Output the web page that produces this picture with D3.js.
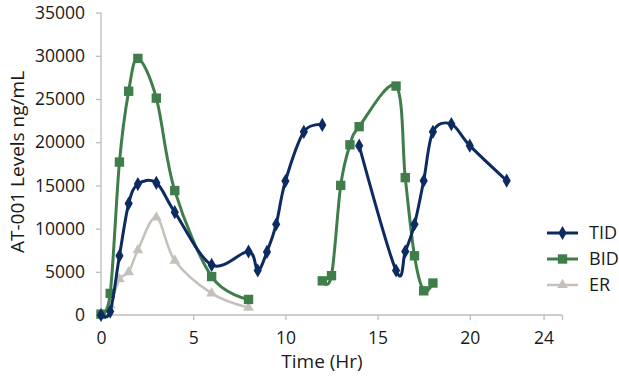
<!DOCTYPE html>
<html>
<head>
<meta charset="utf-8">
<script src="https://cdn.jsdelivr.net/npm/d3@7"></script>
<style>
  body { margin: 0; background: #fff; }
  text { font-family: "Open Sans", sans-serif; fill: #1a1a1a; }
</style>
</head>
<body>
<script>
//   DATA (null = break in the line)
const tidHours = [0, 0.5, 1, 1.5, 2, 3, 4, 6, 8, 8.5, 9, 9.5, 10, 11, 12, 13, 14, 16, 16.5, 17, 17.5, 18, 19, 20, 22];
const tidLevels = [0, 400, 6850, 12900, 15150, 15300, 11900, 5800, 7350, 5150, 7300, 10500, 15500, 21200, 22000, null, 19600, 5150, 7350, 10500, 15550, 21200, 22100, 19600, 15550];

const bidHours = [0, 0.5, 1, 1.5, 2, 3, 4, 6, 8, 10, 12, 12.5, 13, 13.5, 14, 16, 16.5, 17, 17.5, 18];
const bidLevels = [100, 2500, 17700, 25900, 29700, 25100, 14400, 4450, 1800, null, 3950, 4550, 15000, 19700, 21800, 26500, 15900, 6850, 2800, 3700];

const erHours = [0, 0.5, 1, 1.5, 2, 3, 4, 6, 8];
const erLevels = [0, 1150, 4150, 4950, 7500, 11300, 6300, 2500, 850];

const xTicks = [0, 5, 10, 15, 20, 24, 25];
const yTicks = [0, 5000, 10000, 15000, 20000, 25000, 30000, 35000];

document.addEventListener("DOMContentLoaded", function () {
  //     parameters
  const w = 619;
  const h = 377;
  const left = 101;
  const right = 562;
  const top = 12.6;
  const bottom = 315;

  const series = [
    { name: "TID", hours: tidHours, levels: tidLevels, color: "#0c2b62", width: 3, symbol: d3.symbolDiamond, size: 58 },
    { name: "BID", hours: bidHours, levels: bidLevels, color: "#3f7d4b", width: 3, symbol: d3.symbolSquare, size: 88 },
    { name: "ER", hours: erHours, levels: erLevels, color: "#c5c1ba", width: 2.5, symbol: d3.symbolTriangle, size: 50 },
  ];

  const svg = d3.select("body").append("svg").attr("width", w).attr("height", h);

  //     Scales
  const xScale = d3.scaleLinear().domain([0, 25]).range([left, right]);
  const yScale = d3.scaleLinear().domain([0, 35000]).range([bottom, top]);

  //     Axes
  const xAxis = d3
    .axisBottom(xScale)
    .tickValues(xTicks)
    .tickSize(5)
    .tickPadding(12)
    .tickFormat((d) => (d === 25 ? "" : d));
  const gx = svg.append("g").attr("transform", "translate(0," + bottom + ")").call(xAxis);

  const yAxis = d3
    .axisLeft(yScale)
    .tickValues(yTicks)
    .tickSize(5)
    .tickPadding(11)
    .tickFormat(d3.format("d"));
  const gy = svg.append("g").attr("transform", "translate(" + left + ",0)").call(yAxis);

  [gx, gy].forEach((g) => {
    g.select(".domain").attr("stroke", "#bcbcbc").attr("stroke-width", 1.3);
    g.selectAll(".tick line").attr("stroke", "#bcbcbc").attr("stroke-width", 1.3);
    g.selectAll(".tick text").style("font-size", "17.5px").style("font-family", "Open Sans").attr("fill", "#1a1a1a");
  });
  gx.select(".domain").attr("d", "M" + left + ",0H" + right);
  gy.select(".domain").attr("d", "M0," + bottom + "V" + top);

  //     Axis titles
  svg
    .append("text")
    .attr("x", 322)
    .attr("y", 368)
    .attr("text-anchor", "middle")
    .style("font-size", "19px")
    .text("Time (Hr)");

  svg
    .append("text")
    .attr("transform", "translate(24,162) rotate(-90)")
    .attr("text-anchor", "middle")
    .style("font-size", "19px")
    .text("AT-001 Levels ng/mL");

  //     Lines + markers
  const line = d3
    .line()
    .defined((d) => d.v !== null)
    .x((d) => xScale(d.t))
    .y((d) => yScale(d.v))
    .curve(d3.curveCardinal.tension(0));

  series.slice().reverse().forEach((s) => {
    const pts = s.hours.map((t, i) => ({ t: t, v: s.levels[i] }));

    svg
      .append("path")
      .datum(pts)
      .attr("fill", "none")
      .attr("stroke", s.color)
      .attr("stroke-width", s.width)
      .attr("d", line);

    svg
      .selectAll(null)
      .data(pts.filter((d) => d.v !== null))
      .enter()
      .append("path")
      .attr("d", d3.symbol().type(s.symbol).size(s.size))
      .attr("transform", (d) => "translate(" + xScale(d.t) + "," + yScale(d.v) + ")")
      .attr("fill", s.color);
  });

  //     Legend
  const legend = svg.append("g").attr("transform", "translate(547,233)");
  series.forEach((s, i) => {
    const g = legend.append("g").attr("transform", "translate(0," + i * 26 + ")");
    g.append("line").attr("x1", 0).attr("x2", 31).attr("stroke", s.color).attr("stroke-width", s.width);
    g.append("path")
      .attr("d", d3.symbol().type(s.symbol).size(s.size))
      .attr("transform", "translate(15.5,0)")
      .attr("fill", s.color);
    g.append("text")
      .attr("x", 42)
      .attr("y", 6)
      .style("font-size", "18px")
      .text(s.name);
  });
});
</script>
</body>
</html>
